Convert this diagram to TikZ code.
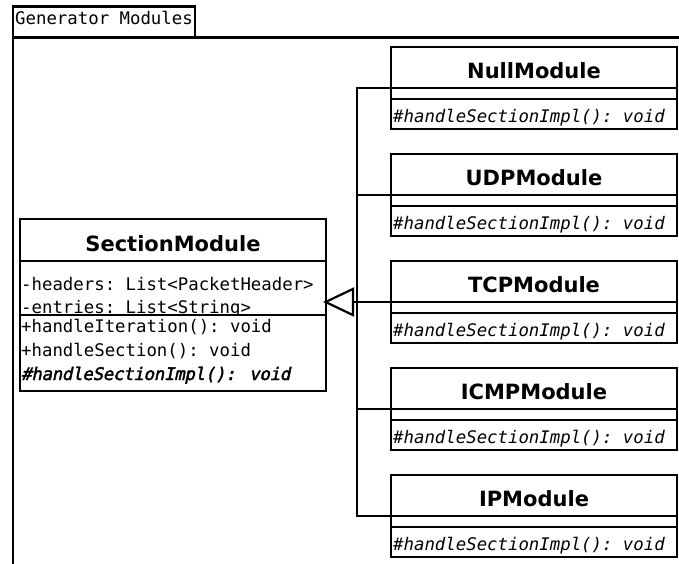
\documentclass[tikz,border=0pt]{standalone}
\usepackage{fontspec}
\setmainfont{DejaVu Sans}
\setmonofont{DejaVu Sans Mono}
\newfontfamily\monoboldobl{DejaVu Sans Mono}[FakeBold=2.2, FakeSlant=0.21, LetterSpace=-1.4]
\usetikzlibrary{arrows.meta}

\tikzset{
  umlbox/.style={draw, line width=2.2pt, fill=white, inner sep=0pt, outer sep=0pt, anchor=north west},
  classname/.style={font=\fontsize{21}{21}\selectfont\bfseries, anchor=base, inner sep=0pt},
  member/.style={font=\fontsize{17.35}{17.35}\selectfont\ttfamily, anchor=base west, inner sep=0pt},
  abstractop/.style={member, font=\fontsize{17.35}{17.35}\selectfont\ttfamily\itshape},
  link/.style={line width=2.2pt},
  inherit/.style={link, -{Triangle[open, length=31pt, width=29pt, line width=2.2pt]}, shorten >=-3pt},
}

\begin{document}
\begin{tikzpicture}[x=1pt, y=-1pt]
  \useasboundingbox (0,0) rectangle (679,563);

  % package frame with its name tab
  \node[umlbox, line width=2.6pt, minimum width=182pt, minimum height=31pt] (tab) at (13,6.5) {};
  \node[member] (pkgname) at (15,24) {Generator Modules};
  \draw[line width=2.6pt] (700,37.5) -- (13,37.5) -- (13,580);

  % abstract base class
  \node[umlbox, minimum width=306pt, minimum height=42pt] (secT) at (20,219) {};
  \node[classname] (secName) at (173,251.5) {SectionModule};
  \node[umlbox, minimum width=306pt, minimum height=54pt] (secA) at (20,261) {};
  \node[member] (secA1) at (21,290) {-headers: List<PacketHeader>};
  \node[member] (secA2) at (21,313) {-entries: List<String>};
  \node[umlbox, minimum width=306pt, minimum height=76pt] (secM) at (20,315) {};
  \node[member] (secM1) at (21,332) {+handleIteration(): void};
  \node[member] (secM2) at (21,356.5) {+handleSection(): void};
  \node[member, font=\fontsize{17.35}{17.35}\selectfont\monoboldobl] (secM3) at (21,380) {\#handleSectionImpl(): void};

  % junction of the generalization tree
  \coordinate (hub) at (357,302);

  % concrete subclasses
  \foreach \n/\cname [count=\i from 0] in {null/NullModule, udp/UDPModule, tcp/TCPModule, icmp/ICMPModule, ip/IPModule} {
    \pgfmathsetmacro{\t}{47+107*\i}
    \node[umlbox, minimum width=286pt, minimum height=41pt] (\n T) at (391,\t) {};
    \node[classname] (\n Name) at (534,\t+31.5) {\cname};
    \node[umlbox, minimum width=286pt, minimum height=11pt] (\n A) at (391,\t+41) {};
    \node[umlbox, minimum width=286pt, minimum height=30pt] (\n M) at (391,\t+52) {};
    \node[abstractop] (\n Op) at (393,\t+75.3) {\#handleSectionImpl(): void};
    \draw[link] (\n T.south west) -| (hub);
  }

  % generalization arrow towards the base class
  \draw[inherit] (hub) -- (secA.east |- hub);
\end{tikzpicture}
\end{document}
